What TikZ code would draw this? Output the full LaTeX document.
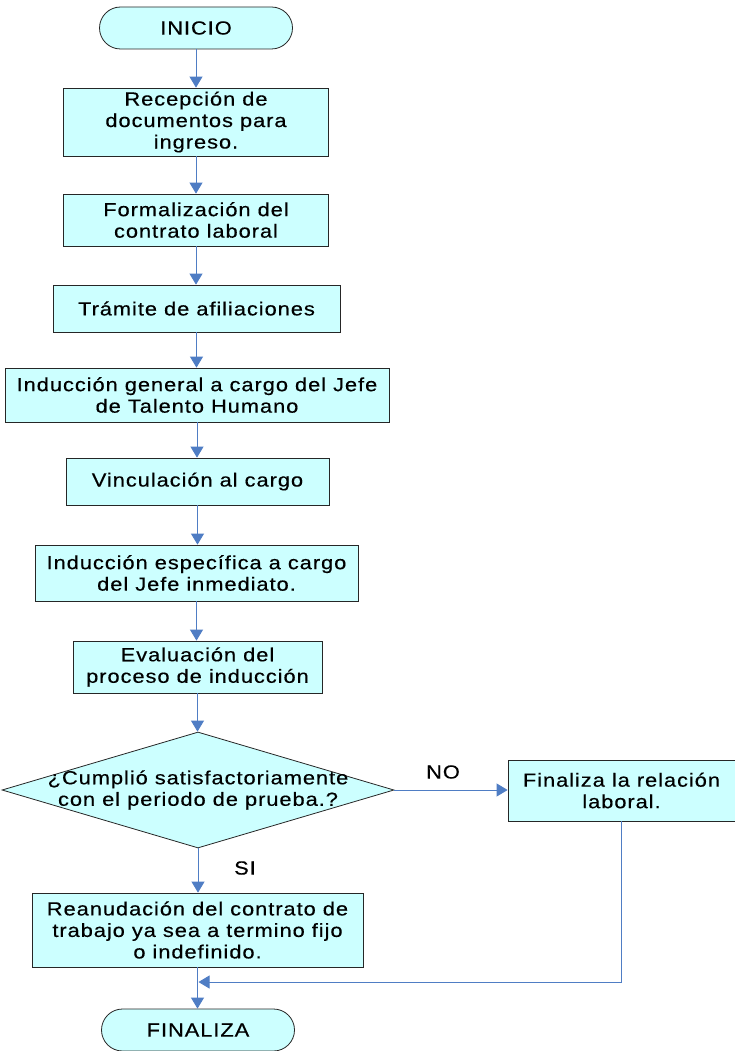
\documentclass[tikz,border=0pt]{standalone}
\usepackage{fontspec}
\setmainfont{Liberation Sans}[FakeStretch=1.15,LetterSpace=5,FakeBold=0.4]
\usetikzlibrary{shapes.geometric,arrows.meta}
\definecolor{boxfill}{RGB}{204,255,255}
\definecolor{lineblue}{RGB}{79,125,196}
\begin{document}
\begin{tikzpicture}[x=1pt,y=-1pt,
  every node/.style={font=\fontsize{19}{21.5}\selectfont, align=center, inner sep=0pt},
  proc/.style={draw=black!85, line width=0.8pt, fill=boxfill, rectangle},
  term/.style={draw=black!85, line width=0.8pt, fill=boxfill, rectangle, rounded corners=21pt, minimum width=193pt, minimum height=42pt},
  dec/.style={draw=black!85, line width=0.8pt, fill=boxfill, diamond, minimum width=392pt, minimum height=116pt, aspect=3.38},
  conn/.style={draw=lineblue, line width=0.9pt, -{Triangle[length=11pt,width=13pt]}},
  lbl/.style={font=\fontsize{19}{21.5}\selectfont}
]
\useasboundingbox (0,0) rectangle (735,1051);
\node[term] (ini) at (196,28) {INICIO};
\node[proc, minimum width=265pt, minimum height=68pt] (rec) at (196,122) {Recepción de\\documentos para\\ingreso.};
\node[proc, minimum width=265pt, minimum height=52pt] (for) at (196,220) {Formalización del\\contrato laboral};
\node[proc, minimum width=287pt, minimum height=47pt] (tra) at (196.5,308.5) {Trámite de afiliaciones};
\node[proc, minimum width=384pt, minimum height=54pt] (ind) at (197,395) {Inducción general a cargo del Jefe\\de Talento Humano};
\node[proc, minimum width=263pt, minimum height=47pt] (vin) at (197.5,481.5) {Vinculación al cargo};
\node[proc, minimum width=323pt, minimum height=56pt] (esp) at (196.5,573) {Inducción específica a cargo\\del Jefe inmediato.};
\node[proc, minimum width=249pt, minimum height=52pt] (eva) at (197.5,667) {Evaluación del\\proceso de inducción};
\node[dec] (dia) at (198,790) {};
\node (diat) at (198,790) {¿Cumplió satisfactoriamente\\con el periodo de prueba.?};
\node[proc, minimum width=227pt, minimum height=61pt] (fin) at (621.5,790.5) {Finaliza la relación\\laboral.};
\node[proc, minimum width=331pt, minimum height=74pt] (rea) at (197.5,930) {Reanudación del contrato de\\trabajo ya sea a termino fijo\\o indefinido.};
\node[term] (end) at (198,1030) {FINALIZA};
\node[lbl] (no) at (443,772) {NO};
\node[lbl] (si) at (245,868) {SI};
\coordinate (ret) at (198.5,982);

\draw[conn] (ini.south) -- (ini.south |- rec.north);
\draw[conn] (rec.south) -- (rec.south |- for.north);
\draw[conn] (for.south) -- (for.south |- tra.north);
\draw[conn] (tra.south) -- (tra.south |- ind.north);
\draw[conn] (ind.south) -- (ind.south |- vin.north);
\draw[conn] (vin.south) -- (vin.south |- esp.north);
\draw[conn] (esp.south) -- (esp.south |- eva.north);
\draw[conn] (eva.south) -- (eva.south |- dia.north);
\draw[conn] (dia.east) -- (fin.west |- dia.east);
\draw[conn] (dia.south) -- (dia.south |- rea.north);
\draw[conn] (rea.south) -- (rea.south |- end.north);
\draw[conn] (fin.south) |- (ret);
\end{tikzpicture}
\end{document}
